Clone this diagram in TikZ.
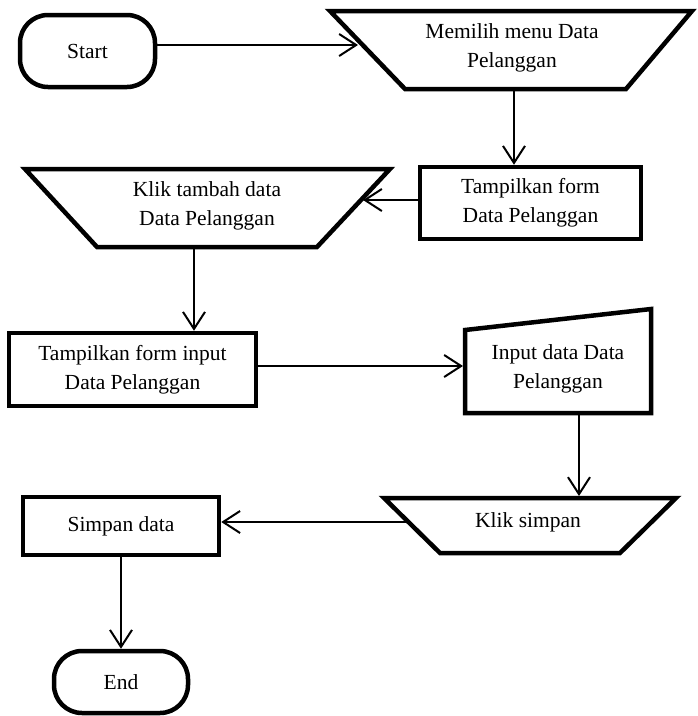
\documentclass[tikz,border=0pt]{standalone}
\usepackage{fontspec}
\setmainfont{Liberation Serif}
\usetikzlibrary{arrows.meta}
\begin{document}
\begin{tikzpicture}[x=1pt,y=-1pt,
  shapeline/.style={line width=4.5pt, line join=miter},
  box/.style={draw, shapeline, rectangle, align=center, font=\fontsize{21.5}{29}\selectfont},
  term/.style={box, rounded corners=28pt},
  lbl/.style={align=center, font=\fontsize{21.5}{29}\selectfont, inner sep=0pt},
  arr/.style={line width=2pt, -{Straight Barb[length=17pt,width=22pt]}}]
\useasboundingbox (0,0) rectangle (698,716);

% Start
\node[term, minimum width=135pt, minimum height=72pt] (start) at (87.5,51) {Start};

% Memilih menu
\draw[shapeline] (330,11) -- (692,11) -- (626,89) -- (405,89) -- cycle;
\node[lbl] (memilih) at (512,48) {Memilih menu Data\\Pelanggan};
\coordinate (memin) at (358,45);
\coordinate (memout) at (514,91);

% Tampilkan form
\node[box, minimum width=221pt, minimum height=72pt] (tform) at (530.5,203) {Tampilkan form\\Data Pelanggan};

% Klik tambah
\draw[shapeline] (25,169) -- (390,169) -- (317,247) -- (97,247) -- cycle;
\node[lbl] (kliktambah) at (207,206) {Klik tambah data\\Data Pelanggan};
\coordinate (ktin) at (363,200);
\coordinate (ktout) at (194,249);

% Tampilkan form input
\node[box, minimum width=247pt, minimum height=73pt] (tinput) at (132.5,369.5) {Tampilkan form input\\Data Pelanggan};

% Input data (manual input)
\draw[shapeline] (465,330) -- (651,309) -- (651,413) -- (465,413) -- cycle;
\node[lbl] (input) at (558,369) {Input data Data\\Pelanggan};
\coordinate (inin) at (463,366);
\coordinate (inout) at (579,415);

% Klik simpan
\draw[shapeline] (384,498) -- (676,498) -- (620,553) -- (440,553) -- cycle;
\node[lbl] (klik) at (528,522) {Klik simpan};
\coordinate (ksin) at (579,496);
\coordinate (ksout) at (406,522);

% Simpan data
\node[box, minimum width=196pt, minimum height=58pt] (simpan) at (121,526) {Simpan data};

% End
\node[term, minimum width=134pt, minimum height=62pt] (end) at (121,682) {End};

% connectors
\draw[arr] (start.east |- memin) -- (memin);
\draw[arr] (memout) -- (memout |- tform.north);
\draw[arr] (tform.west |- ktin) -- (ktin);
\draw[arr] (ktout) -- (ktout |- tinput.north);
\draw[arr] (tinput.east |- inin) -- (inin);
\draw[arr] (inout) -- (ksin);
\draw[arr] (ksout) -- (simpan.east |- ksout);
\draw[arr] (simpan.south) -- (end.north);
\end{tikzpicture}
\end{document}
